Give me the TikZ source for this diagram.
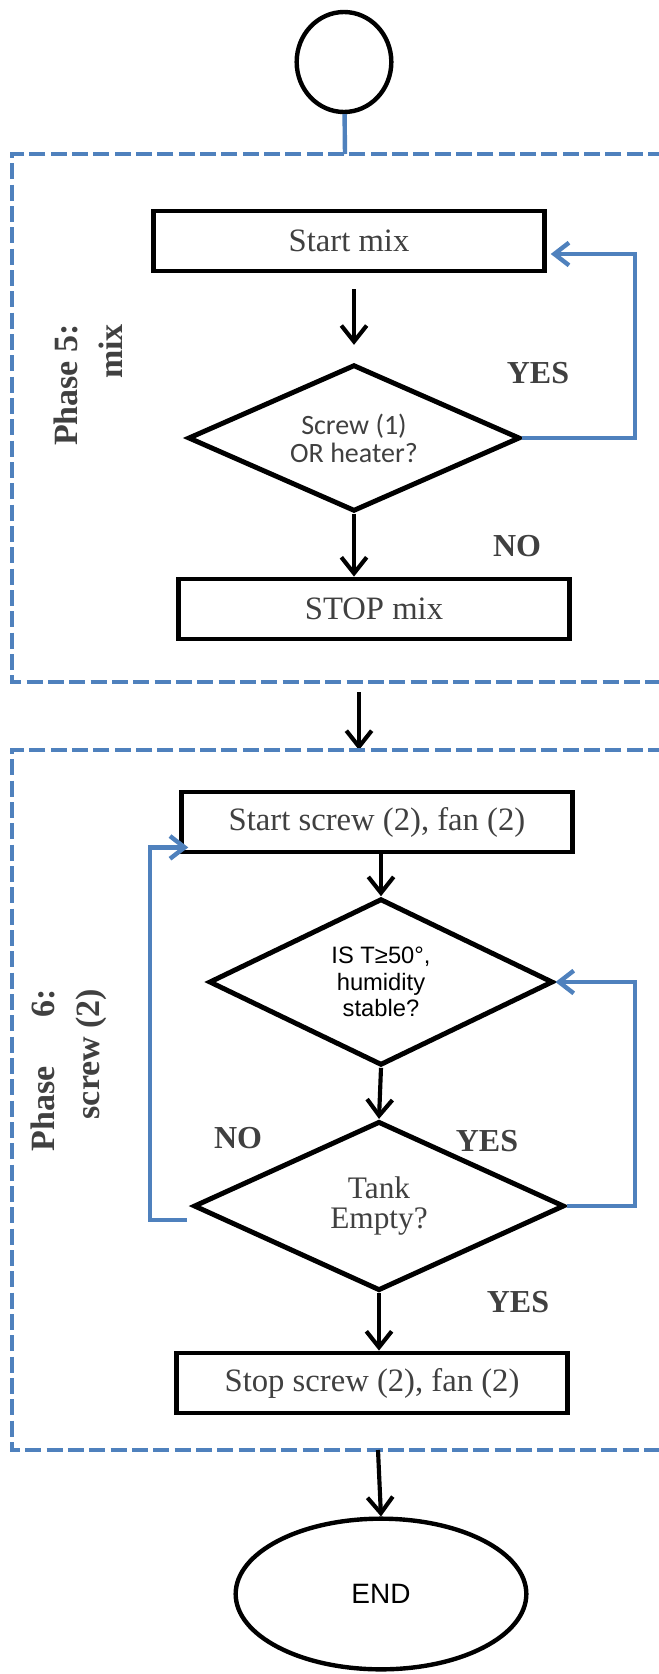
\documentclass[tikz,border=0pt]{standalone}
\usepackage{fontspec}
\setmainfont{Liberation Serif}
\newfontfamily\sansfont{Liberation Sans}
\newfontfamily\calfont{Carlito}
\usepackage{tikz}
\usetikzlibrary{shapes.geometric, arrows.meta, positioning, calc}
\definecolor{myblue}{RGB}{79,129,189}
\definecolor{mygray}{RGB}{64,64,64}
\tikzset{
  block/.style={rectangle, draw=black, line width=3.6pt,
    minimum width=293pt, minimum height=45pt, inner sep=0pt,
    text=mygray, font=\fontsize{24.5}{29}\selectfont},
  decision/.style={diamond, aspect=2.2, draw=black, line width=3.7pt,
    inner sep=0pt, align=center},
  terminal/.style={ellipse, draw=black, line width=3.3pt, inner sep=0pt},
  answer/.style={text=mygray, font=\bfseries\fontsize{24}{28}\selectfont},
  phaselabel/.style={rotate=90, align=right, text=mygray,
    font=\bfseries\fontsize{25.5}{34}\selectfont},
  frame/.style={line width=3.2pt, color=myblue, dash pattern=on 12pt off 4pt},
  arrow/.style={-{Straight Barb[length=12pt,width=19pt]}, line width=3.1pt, color=black},
  loopline/.style={-{Straight Barb[length=11pt,width=17pt]}, line width=3.3pt, color=myblue},
  blueline/.style={line width=3.3pt, color=myblue}
}

\begin{document}
\begin{tikzpicture}[x=0.75pt, y=-0.75pt]
  \useasboundingbox (0,0) rectangle (658,1674);

  % --- start ---
  \node[terminal, minimum width=71pt, minimum height=75pt] (start) at (344,62) {};
  \coordinate (p5in) at (345,154);
  \draw[blueline] (start) -- (p5in);

  % --- Phase 5: mix ---
  \draw[frame] (664,154) -- (12,154) -- (12,682) -- (664,682);
  \node[phaselabel] (ph5) at (88,385) {Phase 5:\\mix};

  \node[block] (startmix) at (349,241) {Start mix};
  \node[decision, minimum width=249pt, minimum height=110pt,
        text=mygray, font=\calfont\fontsize{21}{21}\selectfont] (mixq) at (354,438) {Screw (1)\\OR heater?};
  \node[block] (stopmix) at (374,609) {STOP mix};

  \draw[arrow, shorten <=12pt, shorten >=13pt] (startmix.south -| mixq.north) -- (mixq.north);
  \draw[arrow] (mixq.south) -- (mixq.south |- stopmix.north);
  \draw[loopline] (mixq.east) -| (635,254) -- ($(startmix.east)+(4,13)$); % back to start

  \node[answer] (yes1) at (538,373) {YES};
  \node[answer] (no1) at (517,546) {NO};

  % --- between phases ---
  \coordinate (p5out) at (359,692);
  \coordinate (p6in) at (359,750);
  \draw[arrow] (p5out) -- (p6in);

  % --- Phase 6: screw (2) ---
  \draw[frame] (664,750) -- (12,750) -- (12,1450) -- (664,1450);
  \node[phaselabel] (ph6) at (69,1070) {Phase\hspace{37pt}6:\\screw (2)};

  \node[block] (startscrew) at (377,822) {Start screw (2), fan (2)};
  \node[decision, minimum width=258pt, minimum height=125pt,
        font=\sansfont\fontsize{17.8}{20}\selectfont] (tempq) at (381,982) {IS T≥50°,\\humidity\\stable?};
  \node[decision, minimum width=278pt, minimum height=127pt,
        text=mygray, font=\fontsize{23.5}{22.5}\selectfont] (tankq) at (379,1206) {Tank\\Empty?};
  \node[block] (stopscrew) at (372,1383) {Stop screw (2), fan (2)};

  \draw[arrow] (startscrew.south -| tempq.north) -- (tempq.north);
  \draw[arrow] (tempq.south) -- (tankq.north);
  \draw[arrow] (tankq.south) -- (tankq.south |- stopscrew.north);
  \draw[loopline] ($(tankq.west)+(-4,14)$) -- (150,1220) |- ($(startscrew.south west)+(9,-7)$); % not empty
  \draw[loopline] (tankq.east) -| (635,982) -- (tempq.east); % wait for T

  \node[answer] (no2) at (238,1138) {NO};
  \node[answer] (yes2) at (487,1141) {YES};
  \node[answer] (yes3) at (518,1302) {YES};

  % --- end ---
  \coordinate (p6out) at (378,1450);
  \node[terminal, minimum width=218pt, minimum height=113pt,
        font=\sansfont\fontsize{21}{25}\selectfont] (end) at (381,1594) {END};
  \draw[arrow] (p6out) -- (end.north);
\end{tikzpicture}
\end{document}
